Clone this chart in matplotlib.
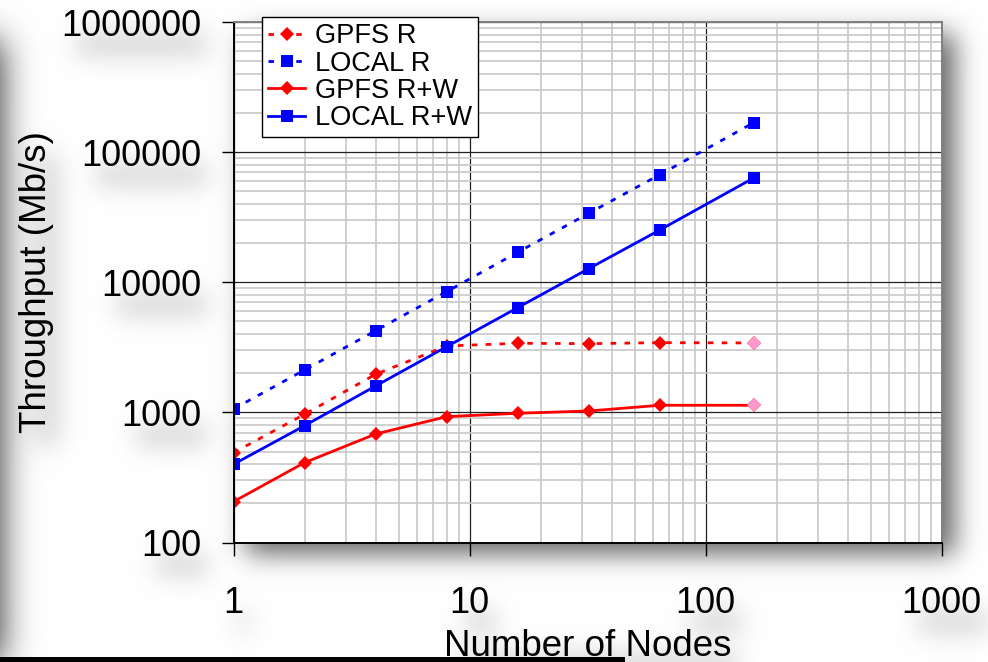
import numpy as np
import matplotlib
matplotlib.use('Agg')
import matplotlib.pyplot as plt
from matplotlib.ticker import FixedLocator, LogLocator, NullFormatter
from matplotlib.patches import Rectangle

plt.rcParams['font.family'] = ['Liberation Sans', 'DejaVu Sans']

# data
nodes = [1, 2, 4, 8, 16, 32, 64, 160]
gpfs_r = [490, 967, 1963, 3236, 3397, 3374, 3434, 3415]
local_r = [1062, 2118, 4246, 8470, 17010, 33900, 67150, 168600]
gpfs_rw = [206, 411, 682, 927, 984, 1025, 1134, 1134]
local_rw = [399, 790, 1596, 3199, 6380, 12730, 25240, 63370]

x_ticks = [1, 10, 100, 1000]
y_ticks = [100, 1000, 10000, 100000, 1000000]

W, H = 988, 662
RED = '#ff0000'
BLUE = '#0000ff'
PINK = '#ff99cc'


def blur(m, s):
    # separable gaussian blur, done with two matrix products
    h, w = m.shape
    r = np.arange(h)[:, None] - np.arange(h)[None, :]
    kr = np.exp(-0.5 * (r / s) ** 2)
    kr /= kr.sum(1, keepdims=True)
    c = np.arange(w)[:, None] - np.arange(w)[None, :]
    kc = np.exp(-0.5 * (c / s) ** 2)
    kc /= kc.sum(0, keepdims=True)
    return kr @ m @ kc


def main():
    fig = plt.figure(figsize=(W / 100, H / 100), dpi=100)
    fig.patch.set_facecolor('white')

    bg = fig.add_axes([0, 0, 1, 1], zorder=-5)
    bg.set_axis_off()

    ax = fig.add_axes([233.5 / W, 1 - 542.5 / H, (941.7 - 233.5) / W, (542.5 - 22) / H], zorder=1)
    ax.set_facecolor('white')
    ax.set_xscale('log')
    ax.set_yscale('log')
    ax.set_xlim(x_ticks[0], x_ticks[-1])
    ax.set_ylim(y_ticks[0], y_ticks[-1])

    dots = (0, (2.0, 3.0))
    lw = 2.0
    dm, sm = 7.2, 8.0
    ax.plot(nodes, gpfs_r, color=RED, lw=lw, ls=dots, marker='D', ms=dm, mew=0, label='GPFS R')
    ax.plot(nodes, local_r, color=BLUE, lw=lw, ls=dots, marker='s', ms=sm, mew=0, label='LOCAL R')
    ax.plot(nodes, gpfs_rw, color=RED, lw=lw, ls='-', marker='D', ms=dm, mew=0, label='GPFS R+W')
    ax.plot(nodes, local_rw, color=BLUE, lw=lw, ls='-', marker='s', ms=sm, mew=0, label='LOCAL R+W')
    # last GPFS points are pink
    ax.plot(nodes[-1:], gpfs_r[-1:], ls='none', marker='D', ms=dm, mew=0, color=PINK, zorder=3)
    ax.plot(nodes[-1:], gpfs_rw[-1:], ls='none', marker='D', ms=dm, mew=0, color=PINK, zorder=3)

    ax.xaxis.set_major_locator(FixedLocator(x_ticks))
    ax.yaxis.set_major_locator(FixedLocator(y_ticks))
    ax.set_xticklabels([str(v) for v in x_ticks])
    ax.set_yticklabels([str(v) for v in y_ticks])
    ax.xaxis.set_minor_locator(LogLocator(base=10, subs=np.arange(2, 10)))
    ax.yaxis.set_minor_locator(LogLocator(base=10, subs=np.arange(2, 10)))
    ax.xaxis.set_minor_formatter(NullFormatter())
    ax.yaxis.set_minor_formatter(NullFormatter())

    ax.set_axisbelow(True)
    ax.grid(which='minor', color='#c8c8c8', lw=1.2)
    ax.grid(which='major', color='#202020', lw=0.9)

    ax.tick_params(which='minor', length=0)
    ax.tick_params(axis='x', which='major', direction='out', length=9, width=1.0,
                   labelsize=26, pad=22.5, colors='black')
    ax.tick_params(axis='y', which='major', direction='out', length=9, width=1.0,
                   labelsize=26, pad=14, colors='black')
    ax.xaxis.get_major_ticks()[-1].tick1line.set_color('#808080')

    for side in ['left', 'bottom']:
        ax.spines[side].set_color('black')
        ax.spines[side].set_linewidth(1.4)
    for side in ['top', 'right']:
        ax.spines[side].set_color('#808080')
        ax.spines[side].set_linewidth(1.4)

    ax.set_xlabel('Number of Nodes', fontsize=26.5, labelpad=5.5)
    ax.set_ylabel('Throughput (Mb/s)', fontsize=26.5, labelpad=5.5)

    leg = ax.legend(loc='upper left', bbox_to_anchor=(262.3 / W, 1 - 17.3 / H),
                    bbox_transform=fig.transFigure, fontsize=19.6, numpoints=1,
                    frameon=True, fancybox=False, framealpha=1, borderpad=0.22,
                    labelspacing=0.05, handlelength=1.35, handletextpad=0.35,
                    borderaxespad=0)
    leg.get_frame().set_edgecolor('black')
    leg.get_frame().set_linewidth(1.0)

    # black strip at the bottom edge
    fig.patches.append(Rectangle((0, 0), 625, 5, transform=None, facecolor='black',
                                 edgecolor='none', zorder=10))

    # soft drop shadows, computed from where things actually landed
    fig.canvas.draw()
    P = 80
    box_mask = np.zeros((H + 2 * P, W + 2 * P))
    txt_mask = np.zeros_like(box_mask)
    edge_mask = np.zeros_like(box_mask)

    def put(mask, bb, dx, dy, amp, shrink=0):
        x0 = int(round(bb.x0)) + dx + P + shrink
        x1 = int(round(bb.x1)) + dx + P - shrink
        y0 = int(round(H - bb.y1)) + dy + P + shrink
        y1 = int(round(H - bb.y0)) + dy + P - shrink
        mask[max(y0, 0):max(y1, 0), max(x0, 0):max(x1, 0)] = amp

    r = fig.canvas.get_renderer()
    put(box_mask, ax.get_window_extent(r), 12, 12, 0.6)
    texts = ax.get_xticklabels() + ax.get_yticklabels() + [ax.xaxis.label, ax.yaxis.label]
    for t in texts:
        put(txt_mask, t.get_window_extent(r), 10, 18, 0.15, shrink=5)
    edge_mask[P + 40:P + H, 0:P] = 0.85

    shade = blur(box_mask, 13) + blur(txt_mask, 12) + blur(edge_mask, 18)
    shade = np.clip(shade[P:P + H, P:P + W], 0, 0.8)
    img = np.dstack([1 - shade] * 3)
    bg.imshow(img, extent=[0, W, H, 0], aspect='auto', interpolation='bilinear')
    bg.set_xlim(0, W)
    bg.set_ylim(H, 0)

    fig.savefig('out.png', dpi=100, facecolor='white')


if __name__ == '__main__':
    main()
